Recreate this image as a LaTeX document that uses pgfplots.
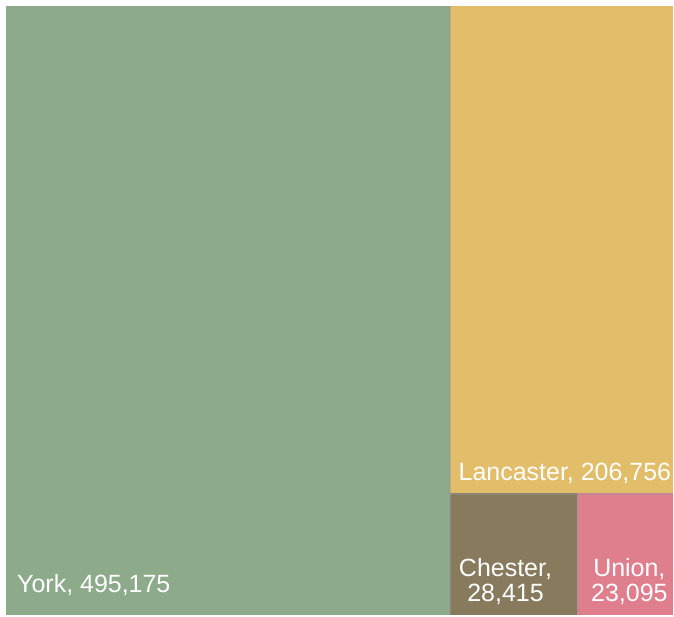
\documentclass[border=0pt]{standalone}
\usepackage{pgfplots}
\pgfplotsset{compat=1.18}
\usepackage{fontspec}
\setmainfont{Liberation Sans}
\definecolor{york}{HTML}{8DAA8B}
\definecolor{lanc}{HTML}{E3BE6A}
\definecolor{chest}{HTML}{877A5D}
\definecolor{union}{HTML}{DF7F8E}
\tikzset{lbl/.style={text=white, font=\fontsize{25}{27}\selectfont, inner sep=0pt}}
\begin{document}
\begin{tikzpicture}
\begin{axis}[
  scale only axis, width=674pt, height=616pt,
  xmin=0, xmax=674, ymin=0, ymax=616,
  hide axis, clip=false,
  axis background/.style={fill=white},
]
% treemap tiles (values: York 495175, Lancaster 206756, Chester 28415, Union 23095)
\addplot[fill=york, draw=none] coordinates {(6,0) (450,0) (450,610) (6,610)} -- cycle;
\addplot[fill=lanc, draw=none] coordinates {(450,122) (674,122) (674,610) (450,610)} -- cycle;
\addplot[fill=chest, draw=none] coordinates {(450,0) (578,0) (578,122) (450,122)} -- cycle;
\addplot[fill=union, draw=none] coordinates {(578,0) (674,0) (674,122) (578,122)} -- cycle;
% subtle shadow lines at tile edges
\addplot[draw=black!40, opacity=0.45, line width=1.8pt] coordinates {(450.8,0) (450.8,610)};
\addplot[draw=black!40, opacity=0.4, line width=1.4pt] coordinates {(450,121.3) (674,121.3)};
\addplot[draw=black!40, opacity=0.4, line width=1.4pt] coordinates {(578.7,0) (578.7,122)};
\node[lbl, anchor=base west] at (axis cs:17,23) {York, 495,175};
\node[lbl, anchor=base east] at (axis cs:672,135) {Lancaster, 206,756};
\node[lbl, anchor=base] at (axis cs:506,39) {Chester,};
\node[lbl, anchor=base] at (axis cs:506,14) {28,415};
\node[lbl, anchor=base] at (axis cs:630,39) {Union,};
\node[lbl, anchor=base] at (axis cs:630,14) {23,095};
\end{axis}
\end{tikzpicture}
\end{document}
